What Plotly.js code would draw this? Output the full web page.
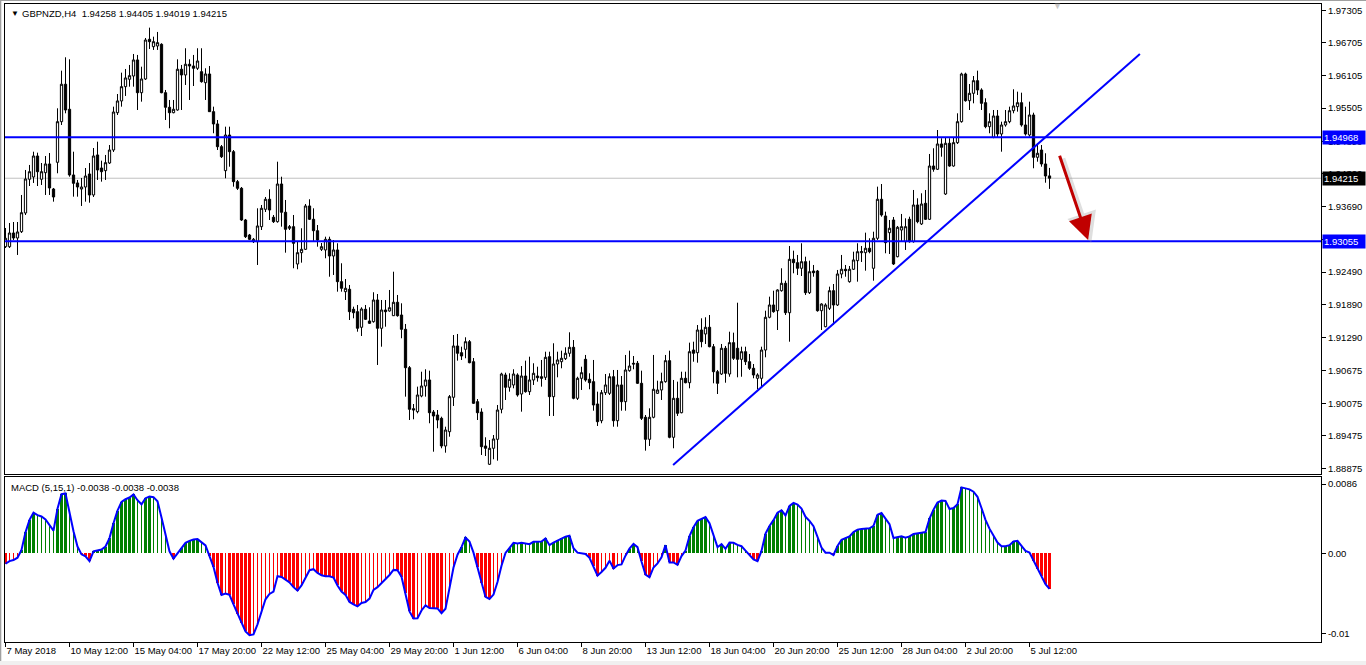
<!DOCTYPE html>
<html>
<head>
<meta charset="utf-8">
<script src="https://cdn.plot.ly/plotly-3.0.1.min.js"></script>
<style>
html,body{margin:0;padding:0;background:#ffffff;}
#chart{width:1366px;height:665px;}
</style>
</head>
<body>
<div id="chart"></div>
<script>
// ---------- DATA ----------
const symbol = "GBPNZD,H4";
const lastQuote = "1.94258 1.94405 1.94019 1.94215";
const macdLabel = "MACD (5,15,1) -0.0038 -0.0038 -0.0038";

const open = [
1.92956,1.92956,1.93208,1.93116,1.93232,1.93576,1.94196,1.94238,1.94624,1.94196,
1.94317,1.94477,1.94017,1.94508,1.95255,1.95943,1.95483,1.94275,1.94128,1.94017,
1.94054,1.94293,1.93907,1.94643,1.94403,1.94354,1.94495,1.94734,1.95420,1.95636,
1.95899,1.96035,1.96095,1.96390,1.95788,1.96040,1.96770,1.96634,1.96647,1.96678,
1.95788,1.95520,1.95420,1.95470,1.96219,1.96114,1.96311,1.96279,1.96237,1.96174,
1.95972,1.96132,1.95439,1.95213,1.94795,1.94354,1.95010,1.94703,1.94152,1.94030,
1.93447,1.93171,1.93048,1.93048,1.93324,1.93644,1.93828,1.93497,1.93416,1.94109,
1.93589,1.93295,1.93324,1.92638,1.92846,1.92908,1.93705,1.93460,1.93250,1.92908,
1.92896,1.93092,1.92785,1.92896,1.92313,1.92129,1.92173,1.91805,1.91761,1.91474,
1.91805,1.91590,1.91577,1.91976,1.91456,1.91792,1.91774,1.91687,1.91934,1.91700,
1.91437,1.90731,1.89977,1.89922,1.90211,1.90394,1.90505,1.89916,1.89861,1.89800,
1.89291,1.89554,1.90187,1.91130,1.91007,1.91069,1.91209,1.90841,1.90106,1.89916,
1.89291,1.88955,1.89249,1.89414,1.89966,1.90597,1.90371,1.90413,1.90597,1.90247,
1.90578,1.90290,1.90505,1.90578,1.90565,1.90554,1.90933,1.90198,1.90799,1.90841,
1.90897,1.90996,1.91106,1.90168,1.90536,1.90885,1.90518,1.90474,1.90063,1.89756,
1.90271,1.90260,1.90565,1.89756,1.90413,1.90106,1.90676,1.90812,1.90812,1.90444,
1.89819,1.89414,1.89819,1.90260,1.90321,1.90474,1.90860,1.89451,1.90168,1.89903,
1.90536,1.90455,1.91056,1.91007,1.91424,1.91351,1.91474,1.91117,1.90657,1.90615,
1.91088,1.90615,1.91191,1.91088,1.90885,1.91025,1.90841,1.90720,1.90536,1.90536,
1.91056,1.91658,1.91884,1.91779,1.92147,1.92283,1.91742,1.92724,1.92662,1.92559,
1.92680,1.92110,1.92509,1.92509,1.91779,1.91485,1.91823,1.92147,1.91884,1.92454,
1.92541,1.92313,1.92541,1.92699,1.92846,1.92846,1.92927,1.92559,1.93111,1.93828,
1.93521,1.93214,1.93447,1.92772,1.93263,1.93048,1.93460,1.93048,1.93723,1.93374,
1.93754,1.93460,1.94440,1.94380,1.94845,1.93925,1.94858,1.94440,1.94869,1.95255,
1.96132,1.95641,1.95777,1.96009,1.95838,1.95604,1.95163,1.94968,1.95360,1.95029,
1.95194,1.95255,1.95457,1.95531,1.95604,1.95194,1.95010,1.95378,1.94600,1.94734,
1.94477,1.94258];

const high = [
1.93300,1.93392,1.93410,1.93410,1.93907,1.94367,1.94459,1.94703,1.94685,1.94495,
1.94624,1.94679,1.94036,1.95501,1.96193,1.96439,1.96402,1.94703,1.94183,1.94220,
1.94403,1.94495,1.94771,1.94887,1.94538,1.94643,1.94826,1.95531,1.95764,1.96156,
1.96224,1.96298,1.96500,1.96482,1.96266,1.96794,1.96984,1.96818,1.96905,1.96697,
1.95838,1.95654,1.95654,1.96402,1.96298,1.96605,1.96402,1.96482,1.96605,1.96605,
1.96237,1.96279,1.95531,1.95286,1.94826,1.95163,1.95163,1.94734,1.94183,1.94054,
1.93466,1.93190,1.93116,1.93662,1.93723,1.93870,1.94012,1.93539,1.94519,1.94243,
1.93815,1.93355,1.93539,1.93048,1.93295,1.93741,1.93828,1.93662,1.93355,1.93024,
1.93140,1.93140,1.93079,1.93019,1.92651,1.92362,1.92252,1.91853,1.91884,1.91842,
1.91884,1.91842,1.92118,1.92086,1.91976,1.91976,1.92160,1.92496,1.92068,1.91915,
1.91535,1.90762,1.90063,1.90382,1.90657,1.90702,1.90676,1.89953,1.89953,1.89830,
1.89646,1.90229,1.91332,1.91351,1.91117,1.91290,1.91240,1.90909,1.90155,1.89984,
1.89451,1.89401,1.89493,1.90045,1.90639,1.90639,1.90628,1.90702,1.90628,1.90762,
1.90860,1.90933,1.90812,1.90749,1.90873,1.91025,1.91025,1.91180,1.91025,1.91044,
1.91106,1.91382,1.91240,1.90565,1.90749,1.90965,1.90628,1.90873,1.90290,1.90321,
1.90615,1.90628,1.90689,1.90689,1.90578,1.90965,1.91044,1.90946,1.90854,1.90676,
1.89861,1.89984,1.90965,1.90492,1.90639,1.90965,1.91044,1.90505,1.90474,1.90657,
1.90657,1.91191,1.91209,1.91516,1.91639,1.91658,1.91700,1.91167,1.90689,1.91167,
1.91130,1.91393,1.91375,1.91926,1.91117,1.91117,1.90983,1.90799,1.90628,1.91117,
1.91779,1.92037,1.92147,1.92173,1.92559,1.92331,1.92969,1.92883,1.92804,1.93019,
1.92772,1.92699,1.92620,1.92528,1.91915,1.91915,1.92221,1.92270,1.92528,1.92804,
1.92620,1.92601,1.92864,1.93019,1.92969,1.93214,1.93111,1.93232,1.94060,1.94109,
1.93600,1.93447,1.93502,1.93337,1.93558,1.93478,1.93508,1.93999,1.93846,1.93938,
1.93999,1.94661,1.94766,1.95102,1.94950,1.94968,1.94950,1.94968,1.95409,1.96156,
1.96156,1.95948,1.96095,1.96193,1.95869,1.95685,1.95409,1.95470,1.95470,1.95255,
1.95470,1.95531,1.95851,1.95807,1.95788,1.95531,1.95623,1.95420,1.94858,1.94826,
1.94674,1.94405];

const low = [
1.92932,1.92932,1.93079,1.92804,1.93208,1.93539,1.94072,1.94128,1.94072,1.94091,
1.93907,1.93907,1.93784,1.94306,1.95194,1.95409,1.94243,1.93876,1.93876,1.93705,
1.93784,1.93765,1.93870,1.94183,1.94152,1.94183,1.94477,1.94698,1.95378,1.95531,
1.95728,1.95899,1.95899,1.95470,1.95623,1.96022,1.96592,1.96574,1.96574,1.95777,
1.95286,1.95134,1.95409,1.95457,1.95470,1.95930,1.95654,1.95911,1.96206,1.95972,
1.95654,1.95439,1.95042,1.94734,1.94587,1.94214,1.94427,1.94060,1.93999,1.93429,
1.93116,1.93079,1.93024,1.92620,1.93263,1.93594,1.93447,1.93392,1.93398,1.93324,
1.92846,1.93263,1.92559,1.92541,1.92662,1.92896,1.93447,1.93048,1.92956,1.92877,
1.92743,1.92404,1.92436,1.92129,1.92129,1.91976,1.91608,1.91639,1.91393,1.91314,
1.91608,1.91535,1.91559,1.90781,1.91117,1.91485,1.91761,1.91682,1.91669,1.91272,
1.90198,1.89769,1.89782,1.89892,1.90187,1.90198,1.89709,1.89186,1.89617,1.89249,
1.89168,1.89462,1.90027,1.90860,1.90873,1.90904,1.90812,1.90063,1.89769,1.89126,
1.89107,1.88942,1.89047,1.89021,1.89892,1.90137,1.90290,1.90352,1.90198,1.89922,
1.90271,1.90229,1.90413,1.90474,1.90382,1.90505,1.89843,1.89843,1.90554,1.90720,
1.90873,1.90933,1.90150,1.90137,1.90321,1.90474,1.90334,1.89940,1.89659,1.89709,
1.90229,1.90229,1.89646,1.89646,1.89940,1.89940,1.90657,1.90702,1.90431,1.89769,
1.89205,1.89291,1.89800,1.90247,1.90137,1.90455,1.89433,1.89249,1.89843,1.89892,
1.90444,1.90352,1.90841,1.90823,1.91106,1.91167,1.91106,1.90444,1.90247,1.90597,
1.90455,1.90565,1.90873,1.90554,1.90565,1.90781,1.90689,1.90536,1.90334,1.90382,
1.90922,1.91639,1.91742,1.91424,1.92129,1.91700,1.91209,1.92467,1.92436,1.92417,
1.92068,1.92086,1.92404,1.91761,1.91424,1.91474,1.91792,1.91516,1.91866,1.92375,
1.92404,1.92294,1.92528,1.92313,1.92675,1.92515,1.92835,1.92331,1.93079,1.93508,
1.92835,1.92822,1.92620,1.92761,1.93048,1.92896,1.93030,1.93030,1.93387,1.93355,
1.93447,1.93447,1.94335,1.94367,1.94611,1.93907,1.94427,1.94427,1.94845,1.95237,
1.95623,1.95470,1.95593,1.95746,1.95470,1.95134,1.95042,1.94950,1.94968,1.94703,
1.95163,1.95226,1.95409,1.95439,1.95163,1.94999,1.94979,1.94398,1.94519,1.94427,
1.94133,1.94019];

const close = [
1.93111,1.93208,1.93116,1.93227,1.93581,1.94201,1.94335,1.94624,1.94335,1.94335,
1.94477,1.94036,1.93870,1.95255,1.95943,1.95470,1.94275,1.94122,1.94054,1.94054,
1.94256,1.93907,1.94624,1.94367,1.94335,1.94501,1.94734,1.95433,1.95636,1.95899,
1.96059,1.96101,1.96390,1.95788,1.96040,1.96757,1.96726,1.96726,1.96708,1.95788,
1.95520,1.95420,1.95483,1.96219,1.96114,1.96311,1.96279,1.96237,1.96371,1.95991,
1.96132,1.95439,1.95213,1.94795,1.94611,1.95010,1.94703,1.94152,1.94030,1.93447,
1.93140,1.93092,1.93092,1.93337,1.93662,1.93828,1.93631,1.93416,1.94109,1.93589,
1.93276,1.93324,1.93019,1.92846,1.92908,1.93705,1.93460,1.93250,1.93079,1.92956,
1.93092,1.92785,1.92896,1.92313,1.92191,1.92191,1.91761,1.91742,1.91456,1.91810,
1.91621,1.91547,1.91976,1.91456,1.91792,1.91761,1.91834,1.91934,1.91687,1.91437,
1.90731,1.89966,1.89953,1.90229,1.90394,1.90505,1.89903,1.89843,1.89769,1.89291,
1.89585,1.90198,1.91130,1.90996,1.90946,1.91209,1.90823,1.90076,1.89903,1.89278,
1.89249,1.89249,1.89420,1.89953,1.90615,1.90371,1.90518,1.90615,1.90229,1.90578,
1.90290,1.90505,1.90628,1.90547,1.90536,1.90922,1.90198,1.90799,1.90873,1.90904,
1.90996,1.91106,1.90168,1.90536,1.90639,1.90505,1.90455,1.90045,1.89738,1.90271,
1.90413,1.90565,1.89756,1.90413,1.90106,1.90689,1.90762,1.90799,1.90444,1.89800,
1.89414,1.89819,1.90334,1.90321,1.90474,1.90860,1.89451,1.90168,1.89892,1.90536,
1.90455,1.91025,1.90996,1.91424,1.91209,1.91474,1.91117,1.90657,1.90444,1.91088,
1.90628,1.91191,1.90904,1.90885,1.91025,1.90841,1.90720,1.90597,1.90597,1.91056,
1.91658,1.91884,1.91761,1.92160,1.92283,1.91742,1.92724,1.92662,1.92559,1.92680,
1.92110,1.92496,1.92478,1.91779,1.91902,1.91884,1.92147,1.91884,1.92454,1.92541,
1.92515,1.92541,1.92712,1.92864,1.92864,1.92927,1.92864,1.93111,1.93828,1.93539,
1.93030,1.93295,1.92638,1.93313,1.93324,1.93324,1.93048,1.93723,1.93416,1.93741,
1.93460,1.94440,1.94380,1.94845,1.94784,1.94858,1.94440,1.94869,1.95255,1.96132,
1.95641,1.95777,1.96009,1.95838,1.95593,1.95163,1.95255,1.95360,1.95029,1.95194,
1.95255,1.95457,1.95544,1.95604,1.95194,1.95029,1.95378,1.94600,1.94674,1.94477,
1.94256,1.94215];

// MACD(5,15,1) main line, one value per bar
const macd = [
-0.00130,-0.00097,-0.00084,-0.00055,0.00042,0.00260,0.00415,0.00504,0.00474,0.00457,
0.00420,0.00344,0.00281,0.00554,0.00734,0.00743,0.00508,0.00273,0.00084,-0.00013,
-0.00038,-0.00097,0.00025,0.00038,0.00046,0.00084,0.00189,0.00373,0.00529,0.00638,
0.00671,0.00692,0.00730,0.00659,0.00608,0.00684,0.00705,0.00697,0.00646,0.00445,
0.00218,0.00025,-0.00067,0.00004,0.00063,0.00130,0.00155,0.00172,0.00176,0.00134,
0.00097,-0.00034,-0.00168,-0.00365,-0.00516,-0.00499,-0.00516,-0.00634,-0.00751,-0.00860,
-0.00969,-0.01016,-0.01007,-0.00881,-0.00713,-0.00571,-0.00504,-0.00474,-0.00285,-0.00294,
-0.00327,-0.00361,-0.00420,-0.00462,-0.00399,-0.00294,-0.00210,-0.00197,-0.00243,-0.00273,
-0.00285,-0.00285,-0.00302,-0.00399,-0.00474,-0.00516,-0.00604,-0.00634,-0.00659,-0.00617,
-0.00604,-0.00562,-0.00453,-0.00420,-0.00373,-0.00323,-0.00269,-0.00206,-0.00210,-0.00290,
-0.00495,-0.00722,-0.00810,-0.00806,-0.00709,-0.00646,-0.00680,-0.00684,-0.00684,-0.00743,
-0.00688,-0.00432,-0.00176,-0.00017,0.00076,0.00197,0.00147,0.00008,-0.00164,-0.00365,
-0.00541,-0.00566,-0.00512,-0.00357,-0.00155,0.00004,0.00071,0.00130,0.00122,0.00130,
0.00122,0.00113,0.00143,0.00143,0.00147,0.00185,0.00101,0.00134,0.00159,0.00185,
0.00206,0.00218,0.00063,0.00008,0.00004,-0.00008,-0.00055,-0.00159,-0.00277,-0.00231,
-0.00180,-0.00092,-0.00189,-0.00147,-0.00138,-0.00029,0.00059,0.00117,0.00076,-0.00101,
-0.00264,-0.00298,-0.00176,-0.00126,-0.00050,0.00101,-0.00113,-0.00113,-0.00143,-0.00034,
0.00034,0.00214,0.00323,0.00403,0.00428,0.00449,0.00373,0.00214,0.00076,0.00113,
0.00055,0.00134,0.00130,0.00105,0.00088,0.00034,-0.00025,-0.00076,-0.00097,0.00029,
0.00243,0.00340,0.00411,0.00504,0.00533,0.00470,0.00587,0.00625,0.00604,0.00554,
0.00453,0.00403,0.00336,0.00189,0.00071,0.00008,0.00008,-0.00021,0.00092,0.00168,
0.00185,0.00210,0.00264,0.00294,0.00302,0.00302,0.00311,0.00340,0.00478,0.00499,
0.00428,0.00361,0.00189,0.00197,0.00210,0.00193,0.00210,0.00239,0.00243,0.00256,
0.00264,0.00432,0.00541,0.00629,0.00655,0.00650,0.00550,0.00562,0.00608,0.00818,
0.00806,0.00793,0.00764,0.00701,0.00562,0.00415,0.00306,0.00210,0.00134,0.00088,
0.00088,0.00101,0.00147,0.00155,0.00088,0.00029,0.00008,-0.00092,-0.00197,-0.00285,
-0.00382,-0.00441];

// time axis labels (every 16 H4 bars)
const timeLabels = ["7 May 2018","10 May 12:00","15 May 04:00","17 May 20:00","22 May 12:00",
  "25 May 04:00","29 May 20:00","1 Jun 12:00","6 Jun 04:00","8 Jun 20:00","13 Jun 12:00",
  "18 Jun 04:00","20 Jun 20:00","25 Jun 12:00","28 Jun 04:00","2 Jul 20:00","5 Jul 12:00"];
const timeLabelBars = [0,16,32,48,64,80,96,112,128,144,160,176,192,208,224,240,256];

// price scale labels (right side); the label under a price tag is hidden there
const priceTicks = [1.97305,1.96705,1.96105,1.95505,1.94890,1.94300,1.93690,1.93090,1.92490,1.91890,1.91290,1.90675,1.90075,1.89475,1.88875];
const priceTickText = ["1.97305","1.96705","1.96105","1.95505","1.94890","1.94300","1.93690","","1.92490","1.91890","1.91290","1.90675","1.90075","1.89475","1.88875"];
const macdTicks = [0.0086, 0.0, -0.01];
const macdTickText = ["0.0086","0.00","-0.01"];

// drawn objects
const levelLines = [1.94968, 1.93055];       // horizontal support/resistance
const currentPrice = 1.94215;
const trendBars = [166.9, 283.6];             // trendline ends (bar index)
const trendPrices = [1.88942, 1.96500];       // trendline ends (price)
const arrowBars = [263.4, 270.65];            // red arrow tail -> head
const arrowPrices = [1.94655, 1.93079];

// ---------- BUILD ----------
const n = open.length;
const bars = open.map((_, i) => i);

// histogram colouring: thick when moving away from zero, thin otherwise
const histW = [], histC = [];
for (let i = 0; i < n; i++) {
  const v = macd[i], p = i > 0 ? macd[i-1] : v;
  const away = v >= 0 ? v >= p : v <= p;
  histW.push(away ? 0.75 : 0.25);
  histC.push(v >= 0 ? '#008000' : '#ff0000');
}

const FONT = 'Liberation Sans, Arial, sans-serif';
const L = 5, R = 45, T = 4, B = 23, WIDTH = 1366, HEIGHT = 665;
const plotH = HEIGHT - T - B, plotW = WIDTH - L - R;
const px = x => (x - L) / plotW;
const py = y => (HEIGHT - B - y) / plotH;

const traces = [
  {
    type: 'candlestick', x: bars, open: open, high: high, low: low, close: close,
    xaxis: 'x', yaxis: 'y',
    increasing: {line: {color: '#000000', width: 1}, fillcolor: '#ffffff'},
    decreasing: {line: {color: '#000000', width: 1}, fillcolor: '#000000'},
    whiskerwidth: 0, hoverinfo: 'skip'
  },
  {
    type: 'bar', x: bars, y: macd, width: histW, marker: {color: histC, line: {width: 0}},
    xaxis: 'x2', yaxis: 'y2', hoverinfo: 'skip'
  },
  {
    type: 'scatter', mode: 'lines', x: bars, y: macd, xaxis: 'x2', yaxis: 'y2',
    line: {color: '#0000ff', width: 2}, hoverinfo: 'skip'
  },
  {
    type: 'scatter', mode: 'lines', x: trendBars, y: trendPrices, xaxis: 'x', yaxis: 'y',
    line: {color: '#0000ff', width: 2}, hoverinfo: 'skip', cliponaxis: false
  }
];

const xr = [-0.125, 328.875];
const axisCommon = {showgrid: false, zeroline: false, showline: true, mirror: true,
  linecolor: '#000000', linewidth: 1, tickcolor: '#000000', tickangle: 0,
  tickfont: {family: FONT, size: 9.5, color: '#000'}};

const shapes = [];
levelLines.forEach(v => shapes.push({type: 'line', xref: 'paper', x0: 0, x1: 1, yref: 'y', y0: v, y1: v,
  line: {color: '#0000ff', width: 2}}));
shapes.push({type: 'line', xref: 'paper', x0: 0, x1: 1, yref: 'y', y0: currentPrice, y1: currentPrice,
  line: {color: '#c0c0c0', width: 1}, layer: 'below'});
// window chrome: grey frame at left/top, light band at the bottom
shapes.push({type: 'rect', xref: 'paper', yref: 'paper', x0: px(0), x1: px(1), y0: py(HEIGHT), y1: py(0),
  fillcolor: '#a0a0a0', line: {width: 0}});
shapes.push({type: 'rect', xref: 'paper', yref: 'paper', x0: px(1), x1: px(2), y0: py(HEIGHT), y1: py(0),
  fillcolor: '#e3e3e3', line: {width: 0}});
shapes.push({type: 'rect', xref: 'paper', yref: 'paper', x0: px(0), x1: px(WIDTH), y0: py(1), y1: py(0),
  fillcolor: '#a0a0a0', line: {width: 0}});
shapes.push({type: 'rect', xref: 'paper', yref: 'paper', x0: px(0), x1: px(WIDTH), y0: py(HEIGHT), y1: py(661),
  fillcolor: '#f0f0f0', line: {width: 0}});

const annotations = [
  {xref: 'paper', yref: 'paper', x: px(9), y: py(13), xanchor: 'left', yanchor: 'middle',
   text: '▼', showarrow: false, font: {family: FONT, size: 8, color: '#000'}},
  {xref: 'paper', yref: 'paper', x: px(20), y: py(13), xanchor: 'left', yanchor: 'middle',
   text: symbol + '&nbsp;&nbsp;' + lastQuote, showarrow: false, font: {family: FONT, size: 9.5, color: '#000'}},
  {xref: 'paper', yref: 'paper', x: px(9), y: py(487), xanchor: 'left', yanchor: 'middle',
   text: macdLabel, showarrow: false, font: {family: FONT, size: 9.5, color: '#000'}},
  {xref: 'paper', yref: 'paper', x: px(1057), y: py(6), xanchor: 'center', yanchor: 'middle',
   text: '▼', showarrow: false, font: {family: FONT, size: 9, color: '#c8c8c8'}},
  // arrow shadow and arrow
  {xref: 'x', yref: 'y', axref: 'x', ayref: 'y', x: arrowBars[1] + 0.8, y: arrowPrices[1] - 0.0005,
   ax: arrowBars[0] + 0.8, ay: arrowPrices[0] - 0.0005, showarrow: true, text: '',
   arrowcolor: 'rgba(150,150,150,0.3)', arrowwidth: 5, arrowhead: 2, arrowsize: 1.2},
  {xref: 'x', yref: 'y', axref: 'x', ayref: 'y', x: arrowBars[1], y: arrowPrices[1],
   ax: arrowBars[0], ay: arrowPrices[0], showarrow: true, text: '',
   arrowcolor: '#c00000', arrowwidth: 3, arrowhead: 2, arrowsize: 1.6}
];
// price tags on the right scale
levelLines.forEach(v => annotations.push({xref: 'paper', x: 1, xanchor: 'left', xshift: 1, yref: 'y', y: v,
  yanchor: 'middle', text: v.toFixed(5), showarrow: false, bgcolor: '#0000ff', borderpad: 1, width: 40, align: 'left',
  font: {family: FONT, size: 9.5, color: '#ffffff'}}));
annotations.push({xref: 'paper', x: 1, xanchor: 'left', xshift: 1, yref: 'y', y: currentPrice,
  yanchor: 'middle', text: currentPrice.toFixed(5), showarrow: false, bgcolor: '#000000', borderpad: 1, width: 40, align: 'left',
  font: {family: FONT, size: 9.5, color: '#ffffff'}});

const layout = {
  width: WIDTH, height: HEIGHT,
  margin: {l: L, r: R, t: T, b: B, pad: 0},
  paper_bgcolor: '#ffffff', plot_bgcolor: '#ffffff',
  showlegend: false, hovermode: false,
  boxgap: 0.25, boxgroupgap: 0.25,
  bargap: 0,
  font: {family: FONT, size: 9.5, color: '#000'},
  xaxis: Object.assign({}, axisCommon, {domain: [0, 1], anchor: 'y', range: xr, showticklabels: false,
    ticks: '', rangeslider: {visible: false}, fixedrange: true}),
  yaxis: Object.assign({}, axisCommon, {domain: [(HEIGHT - B - 474) / plotH, 1], anchor: 'x', side: 'right',
    range: [1.88776, 1.97419], tickvals: priceTicks, ticktext: priceTickText,
    ticks: 'outside', ticklen: 4, fixedrange: true}),
  xaxis2: Object.assign({}, axisCommon, {domain: [0, 1], anchor: 'y2', range: xr,
    tickvals: timeLabelBars, ticktext: timeLabels, ticks: 'outside', ticklen: 4,
    ticklabelposition: 'outside right', fixedrange: true}),
  yaxis2: Object.assign({}, axisCommon, {domain: [0, (HEIGHT - B - 477) / plotH], anchor: 'x2', side: 'right',
    range: [-0.011008, 0.009469], tickvals: macdTicks, ticktext: macdTickText,
    ticks: 'outside', ticklen: 4, fixedrange: true}),
  shapes: shapes,
  annotations: annotations
};

Plotly.newPlot('chart', traces, layout, {displayModeBar: false, staticPlot: true});
</script>
</body>
</html>
